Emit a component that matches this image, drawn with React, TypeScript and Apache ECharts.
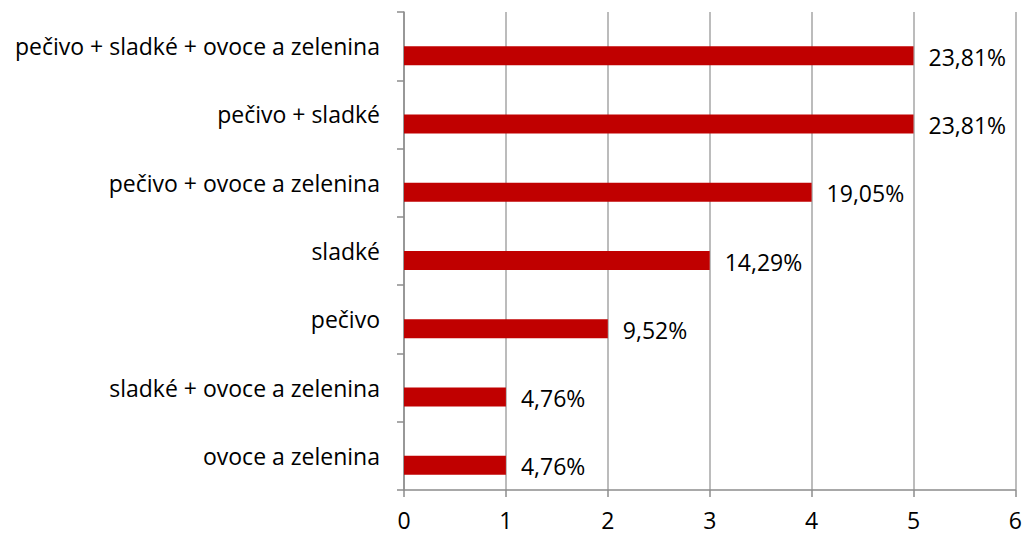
import React, { useEffect, useRef } from "react";
import * as echarts from "echarts";

const categories = [
  "pečivo + sladké + ovoce a zelenina",
  "pečivo + sladké",
  "pečivo + ovoce a zelenina",
  "sladké",
  "pečivo",
  "sladké + ovoce a zelenina",
  "ovoce a zelenina",
];
const counts = [5, 5, 4, 3, 2, 1, 1];
const percentLabels = ["23,81%", "23,81%", "19,05%", "14,29%", "9,52%", "4,76%", "4,76%"];
const xTicks = [0, 1, 2, 3, 4, 5, 6];

export default function App() {
  const ref = useRef<HTMLDivElement>(null);
  useEffect(() => {
    if (!ref.current) return;
    const chart = echarts.init(ref.current, undefined, { renderer: "svg" });
    const font = "'Open Sans', sans-serif";
    chart.setOption({
      animation: false,
      backgroundColor: "#ffffff",
      textStyle: { fontFamily: font },
      grid: { left: 404, right: 7, top: 12, bottom: 46, containLabel: false },
      xAxis: {
        type: "value",
        min: xTicks[0],
        max: xTicks[xTicks.length - 1],
        interval: 1,
        axisLine: { show: true, lineStyle: { color: "#8c8c8c", width: 1.5 } },
        axisTick: { show: true, length: 7, lineStyle: { color: "#8c8c8c", width: 1.5 } },
        splitLine: { show: true, lineStyle: { color: "#a6a6a6", width: 1.5 } },
        axisLabel: { color: "#000", fontSize: 23, margin: 18, fontFamily: font },
      },
      yAxis: {
        type: "category",
        data: categories,
        inverse: true,
        axisLine: { show: true, lineStyle: { color: "#8c8c8c", width: 1.5 } },
        axisTick: { show: true, length: 7, lineStyle: { color: "#8c8c8c", width: 1.5 } },
        axisLabel: { color: "#000", fontSize: 23, margin: 24, fontFamily: font },
        splitLine: { show: false },
      },
      series: [
        {
          type: "bar",
          data: categories.map(() => "-"),
          barWidth: 19,
          barGap: "0%",
          silent: true,
        },
        {
          type: "bar",
          data: counts,
          barWidth: 19,
          barGap: "0%",
          itemStyle: { color: "#c00000" },
          label: {
            show: true,
            position: "right",
            distance: 15,
            offset: [0, 1],
            color: "#000",
            fontSize: 23,
            fontFamily: font,
            formatter: (p: any) => percentLabels[p.dataIndex],
          },
        },
      ],
    });
    return () => chart.dispose();
  }, []);
  return <div ref={ref} style={{ width: 1025, height: 536, position: "absolute", left: 0, top: 0 }} />;
}
